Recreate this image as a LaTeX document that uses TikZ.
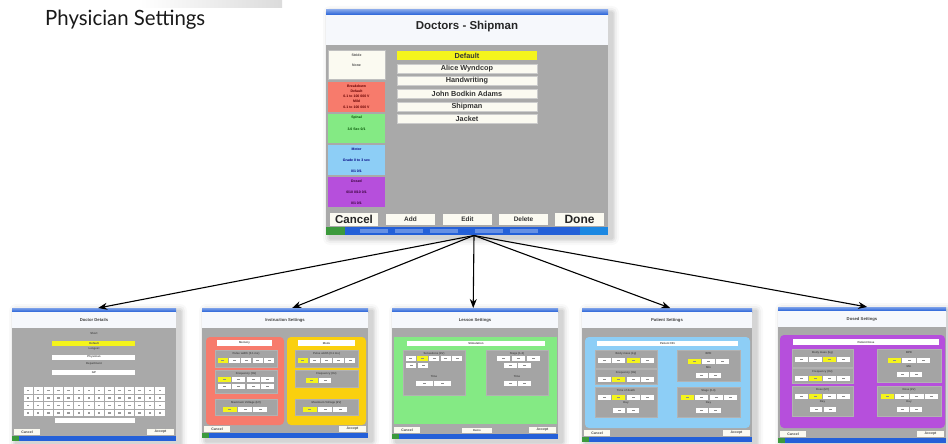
\documentclass[tikz,border=0pt]{standalone}
\usepackage{fontspec}
\setmainfont{Liberation Sans}
\newfontfamily\titlefont{Lato}
\usetikzlibrary{arrows.meta,calc}
\definecolor{xpblue}{HTML}{2460D8}
\definecolor{scrgray}{HTML}{A9A9A9}
\definecolor{subgray}{HTML}{A4A4A4}
\definecolor{cream}{HTML}{FBFAF1}
\definecolor{hiyel}{HTML}{F4F41C}
\definecolor{pred}{HTML}{F77B6C}
\definecolor{pgreen}{HTML}{84EA84}
\definecolor{pblue}{HTML}{8DCEF6}
\definecolor{ppurp}{HTML}{B64FDC}
\definecolor{pgold}{HTML}{FAD00E}
\definecolor{titlew}{HTML}{F6F8FC}
\definecolor{startgreen}{HTML}{3C9A3C}

\tikzset{
  tinyt/.style={font=\fontsize{2.8}{3}\selectfont\bfseries, text=black!70, inner sep=0},
  minit/.style={font=\fontsize{3.5}{4}\selectfont\bfseries, text=black!70, inner sep=0},
  rowt/.style={font=\fontsize{7.3}{8}\selectfont\bfseries, text=black!80, inner sep=0},
  link/.style={-{Stealth[length=9pt,width=7pt]}, line width=1.1pt},
  scrbox/.style={inner sep=0, draw=none, anchor=north west}
}

% soft shadow
\newcommand{\softshadow}[4]{%
  \foreach \d/\o in {7/0.025,5/0.035,3/0.05,1.5/0.06}{%
    \fill[black,opacity=\o,rounded corners=\d] ({#1+4-\d},{#2+3-\d}) rectangle ({#3+4+\d},{#4+3+\d});
  }}

% small screen frame: x1 y1 x2 y2 title
\newcommand{\scrframe}[5]{%
  \softshadow{#1}{#2}{#3}{#4}
  \fill[scrgray] (#1,#2) rectangle (#3,#4);
  \shade[top color=xpblue!60!white, bottom color=xpblue] (#1,#2) rectangle (#3,{#2+4});
  \fill[titlew] (#1,{#2+4}) rectangle (#3,{#2+20});
  \node[font=\fontsize{4.2}{5}\selectfont\bfseries, text=black!75, inner sep=0] at ({(#1+#3)/2},{#2+12}) {#5};
  \fill[xpblue] (#1,{#4-5}) rectangle (#3,#4);
  \fill[startgreen] (#1,{#4-5}) rectangle ({#1+7},#4);
  \fill[cream] ({#1+2},{#4-12}) rectangle ({#1+28},{#4-6});
  \node[minit] at ({#1+15},{#4-9}) {Cancel};
  \fill[cream] ({#3-29},{#4-12}) rectangle ({#3-2},{#4-6});
  \node[minit] at ({#3-15.5},{#4-9}) {Accept};
}

% button row: x1 x2 ytop n highlighted
\newcommand{\brow}[5]{%
  \pgfmathsetmacro\bw{(#2-#1)/#4}
  \foreach \i in {1,...,#4}{%
    \pgfmathsetmacro\bx{#1+(\i-1)*\bw}
    \ifnum\i=#5\relax\def\bc{hiyel}\else\def\bc{white}\fi
    \fill[\bc] ({\bx+0.7},{#3}) rectangle ({\bx+\bw-0.7},{#3+5});
    \fill[black!45] ({\bx+\bw/2-1.5},{#3+2.2}) rectangle ({\bx+\bw/2+1.5},{#3+2.9});
  }}

\newcommand{\subp}[4]{\fill[subgray, draw=black!30, line width=0.3pt] (#1,#2) rectangle (#3,#4);}
\newcommand{\lbl}[3]{\node[tinyt] at (#1,#2) {#3};}

\begin{document}
\begin{tikzpicture}[x=1pt,y=-1pt]
\useasboundingbox (0,0) rectangle (948,444);
\fill[white] (0,0) rectangle (948,444);
\shade[left color=white, right color=black!14] (140,0) rectangle (282,8);

% title
\node[anchor=west, inner sep=0, font=\titlefont\fontsize{21}{24}\selectfont, text=black!90] (title) at (45,20) {\scalebox{0.97}[1]{Physician Settings}};

% ================= main screen =================
\node[scrbox, minimum width=282pt, minimum height=225pt] (main) at (326,10) {};
\softshadow{326}{10}{608}{235}
\fill[scrgray] (326,10) rectangle (608,235);
\shade[top color=xpblue!60!white, bottom color=xpblue] (326,10) rectangle (608,15);
\fill[titlew] (326,15) rectangle (608,45);
\node[font=\fontsize{11.5}{13}\selectfont\bfseries, text=black!85] at (467,27) {Doctors - Shipman};
% left panels
\fill[cream, draw=black!25, line width=0.3pt] (328,50) rectangle (385,79);
\node[minit] at (356.5,55) {Stride};
\node[minit] at (356.5,65) {None};
\fill[pred] (328,82) rectangle (385,112);
\node[minit, text=red!40!black] at (356.5,86) {Breakdown};
\node[minit, text=red!40!black] at (356.5,91) {Default};
\node[minit, text=red!40!black] at (356.5,96) {0.1 to 100 000 V};
\node[minit, text=red!40!black] at (356.5,101) {Mild};
\node[minit, text=red!40!black] at (356.5,107) {0.1 to 100 000 V};
\fill[pgreen] (328,114) rectangle (385,143);
\node[minit, text=green!30!black] at (356.5,118) {Spinal};
\node[minit, text=green!30!black] at (356.5,129) {3.0 Sec 0/1};
\fill[pblue] (328,145) rectangle (385,175);
\node[minit, text=blue!50!black] at (356.5,149) {Motor};
\node[minit, text=blue!50!black] at (356.5,160) {Grade 0 to 3 sec};
\node[minit, text=blue!50!black] at (356.5,171) {0/1 0/1};
\fill[ppurp] (328,177) rectangle (385,207);
\node[minit, text=violet!40!black] at (356.5,181) {Dosed};
\node[minit, text=violet!40!black] at (356.5,192) {0/10 0/10 0/1};
\node[minit, text=violet!40!black] at (356.5,203) {0/1 0/1};
% doctor list
\fill[hiyel] (397,51) rectangle (537,60);
\node[rowt] at (467,55.5) {Default};
\foreach \yy/\tx in {64/Alice Wyndcop,76.5/Handwriting,89/John Bodkin Adams,102/Shipman,114.5/Jacket}{
  \fill[cream, draw=black!20, line width=0.3pt] (397,\yy) rectangle (537,{\yy+9});
  \node[rowt] at (467,{\yy+4.6}) {\tx};
}
% bottom buttons
\fill[cream] (330,213) rectangle (378,226);
\node[font=\fontsize{11.5}{12}\selectfont\bfseries, text=black!85] at (354,219.5) {Cancel};
\foreach \xa/\tx in {386/Add,443/Edit,499/Delete}{
  \fill[cream] (\xa,214) rectangle ({\xa+49},225);
  \node[font=\fontsize{6.5}{7}\selectfont\bfseries, text=black!80] at ({\xa+24.5},219.5) {\tx};
}
\fill[cream] (555,213) rectangle (604,226);
\node[font=\fontsize{12}{13}\selectfont\bfseries, text=black!85] at (579.5,219.5) {Done};
% taskbar
\fill[xpblue] (326,227) rectangle (608,235);
\fill[startgreen] (326,227) rectangle (345,235);
\foreach \xa in {360,395,430,475,510}{\fill[xpblue!70!white] (\xa,229) rectangle ({\xa+28},233);}
\fill[xpblue!75!cyan] (580,227) rectangle (608,235);
\coordinate (hub) at (474,235.5);

% ================= screen 1: Doctor Details =================
\node[scrbox, minimum width=164pt, minimum height=133pt] (s1) at (12,308) {};
\scrframe{12}{308}{176}{441}{Doctor Details}
\lbl{94}{333}{Short}
\fill[hiyel] (52,341) rectangle (135,345.5); \lbl{94}{343.2}{Default}
\lbl{94}{349}{Longest}
\fill[white] (52,355) rectangle (135,359.5); \lbl{94}{357.2}{Physician}
\lbl{94}{364}{Department}
\fill[white] (52,370) rectangle (135,374.5); \lbl{94}{372.2}{GP}
\foreach \yy in {387,394.5,402,409.5}{
  \foreach \k in {0,...,13}{
    \fill[white] ({23+\k*10.15+0.5},\yy) rectangle ({23+(\k+1)*10.15-0.5},{\yy+6.5});
    \fill[black!40] ({23+\k*10.15+3.8},{\yy+2.5}) rectangle ({23+\k*10.15+6.3},{\yy+4});
  }}
\fill[white] (55,418) rectangle (135,423);

% ================= screen 2: Instruction Settings =================
\node[scrbox, minimum width=166pt, minimum height=130pt] (s2) at (202,308) {};
\scrframe{202}{308}{368}{438}{Instruction Settings}
\fill[pred, rounded corners=4pt] (206,337) rectangle (284,425);
\fill[pgold, rounded corners=4pt] (287,337) rectangle (366,425);
\fill[white] (217,340) rectangle (272,346); \lbl{244.5}{343}{Memory}
\fill[white] (298,340) rectangle (355,346); \lbl{326.5}{343}{Mode}
\subp{215}{350}{277}{367} \lbl{246}{353.5}{Pulse width (0.1 ms)} \brow{217}{275}{358}{5}{1}
\subp{215}{370}{277}{393} \lbl{246}{373.5}{Frequency (Hz)} \brow{217}{275}{377}{4}{1} \brow{217}{275}{384}{4}{0}
\subp{215}{399}{277}{415} \lbl{246}{402.5}{Maximum Voltage (kV)} \brow{222}{268}{407}{3}{1}
\subp{295}{350}{358}{367} \lbl{326.5}{353.5}{Pulse width (0.1 ms)} \brow{297}{356}{358}{5}{1}
\subp{295}{370}{358}{387} \lbl{326.5}{373.5}{Frequency (Hz)} \brow{305}{332}{378}{2}{1}
\subp{295}{399}{358}{415} \lbl{326.5}{402.5}{Maximum Voltage (kV)} \brow{302}{348}{407}{3}{1}

% ================= screen 3: Lesson Settings =================
\node[scrbox, minimum width=166pt, minimum height=131pt] (s3) at (392,308) {};
\scrframe{392}{308}{558}{439}{Lesson Settings}
\fill[pgreen] (394,337) rectangle (557,424);
\fill[white] (407,341) rectangle (545,346); \lbl{476}{343.5}{Stimulation}
\subp{403}{350}{465}{395} \lbl{434}{353.5}{Sensations (kV)}
\brow{405}{463}{356}{5}{2} \brow{405}{429}{363}{2}{0}
\lbl{434}{376}{Time} \brow{415}{452}{381}{2}{0}
\subp{486}{350}{548}{395} \lbl{517}{353.5}{Stage (1-3)}
\brow{496}{541}{356}{3}{0} \brow{503}{532}{363}{2}{0}
\lbl{517}{376}{Time} \brow{503}{532}{381}{2}{0}
\fill[cream] (462,428) rectangle (492,433); \lbl{477}{430.5}{Demo}

% ================= screen 4: Patient Settings =================
\node[scrbox, minimum width=170pt, minimum height=134pt] (s4) at (582,308) {};
\scrframe{582}{308}{752}{442}{Patient Settings}
\fill[pblue, rounded corners=4pt] (585,337) rectangle (750,428);
\fill[white] (597,341) rectangle (738,346); \lbl{667.5}{343.5}{Patient 001}
\subp{595}{350}{657}{368} \lbl{626}{353.5}{Body mass (kg)} \brow{597}{655}{358}{4}{3}
\subp{595}{369.5}{657}{384} \lbl{626}{372.5}{Frequency (Hz)} \brow{597}{655}{376.5}{4}{2}
\subp{595}{387}{657}{417} \lbl{626}{390.5}{Time of death} \brow{597}{655}{395}{4}{2}
\lbl{626}{403}{Day} \brow{612}{640}{408}{2}{0}
\subp{677}{350}{740}{381} \lbl{708.5}{353.5}{BPD} \brow{687}{730}{359}{3}{1}
\lbl{708.5}{367}{Min} \brow{695}{722}{373}{2}{0}
\subp{677}{387}{740}{417} \lbl{708.5}{390.5}{Stage (0-3)} \brow{680}{738}{395}{4}{1}
\lbl{708.5}{403}{Day} \brow{695}{722}{408}{2}{0}

% ================= screen 5: Dosed Settings =================
\node[scrbox, minimum width=168pt, minimum height=136pt] (s5) at (778,307) {};
\scrframe{778}{307}{946}{443}{Dosed Settings}
\fill[ppurp, rounded corners=4pt] (780,335) rectangle (945,428);
\fill[white] (793,339) rectangle (939,345); \lbl{866}{342}{Patient Dose}
\subp{792}{349}{853}{367} \lbl{822.5}{352.5}{Body mass (kg)} \brow{794}{851}{357}{4}{3}
\subp{792}{368.5}{853}{383} \lbl{822.5}{371.5}{Frequency (Hz)} \brow{794}{851}{375.5}{4}{2}
\subp{792}{386}{853}{416} \lbl{822.5}{389.5}{Dose (kV)} \brow{794}{851}{394}{4}{2}
\lbl{822.5}{402}{Day} \brow{809}{837}{407}{2}{0}
\subp{877}{349}{941}{382} \lbl{909}{352.5}{BPD} \brow{887}{931}{358}{3}{1}
\lbl{909}{366}{Min} \brow{896}{923}{372}{2}{0}
\subp{877}{386}{941}{416} \lbl{909}{389.5}{Dose (kV)} \brow{880}{939}{394}{4}{1}
\lbl{909}{402}{Day} \brow{896}{923}{407}{2}{0}

% ================= connectors =================
\draw[link] (hub) -- ([xshift=4pt]s1.north);
\draw[link] (hub) -- ([xshift=7pt]s2.north);
\draw[link] (hub) -- ([xshift=-2pt]s3.north);
\draw[link] (hub) -- ([xshift=3pt]s4.north);
\draw[link] (hub) -- ([xshift=5pt]s5.north);
\end{tikzpicture}
\end{document}
